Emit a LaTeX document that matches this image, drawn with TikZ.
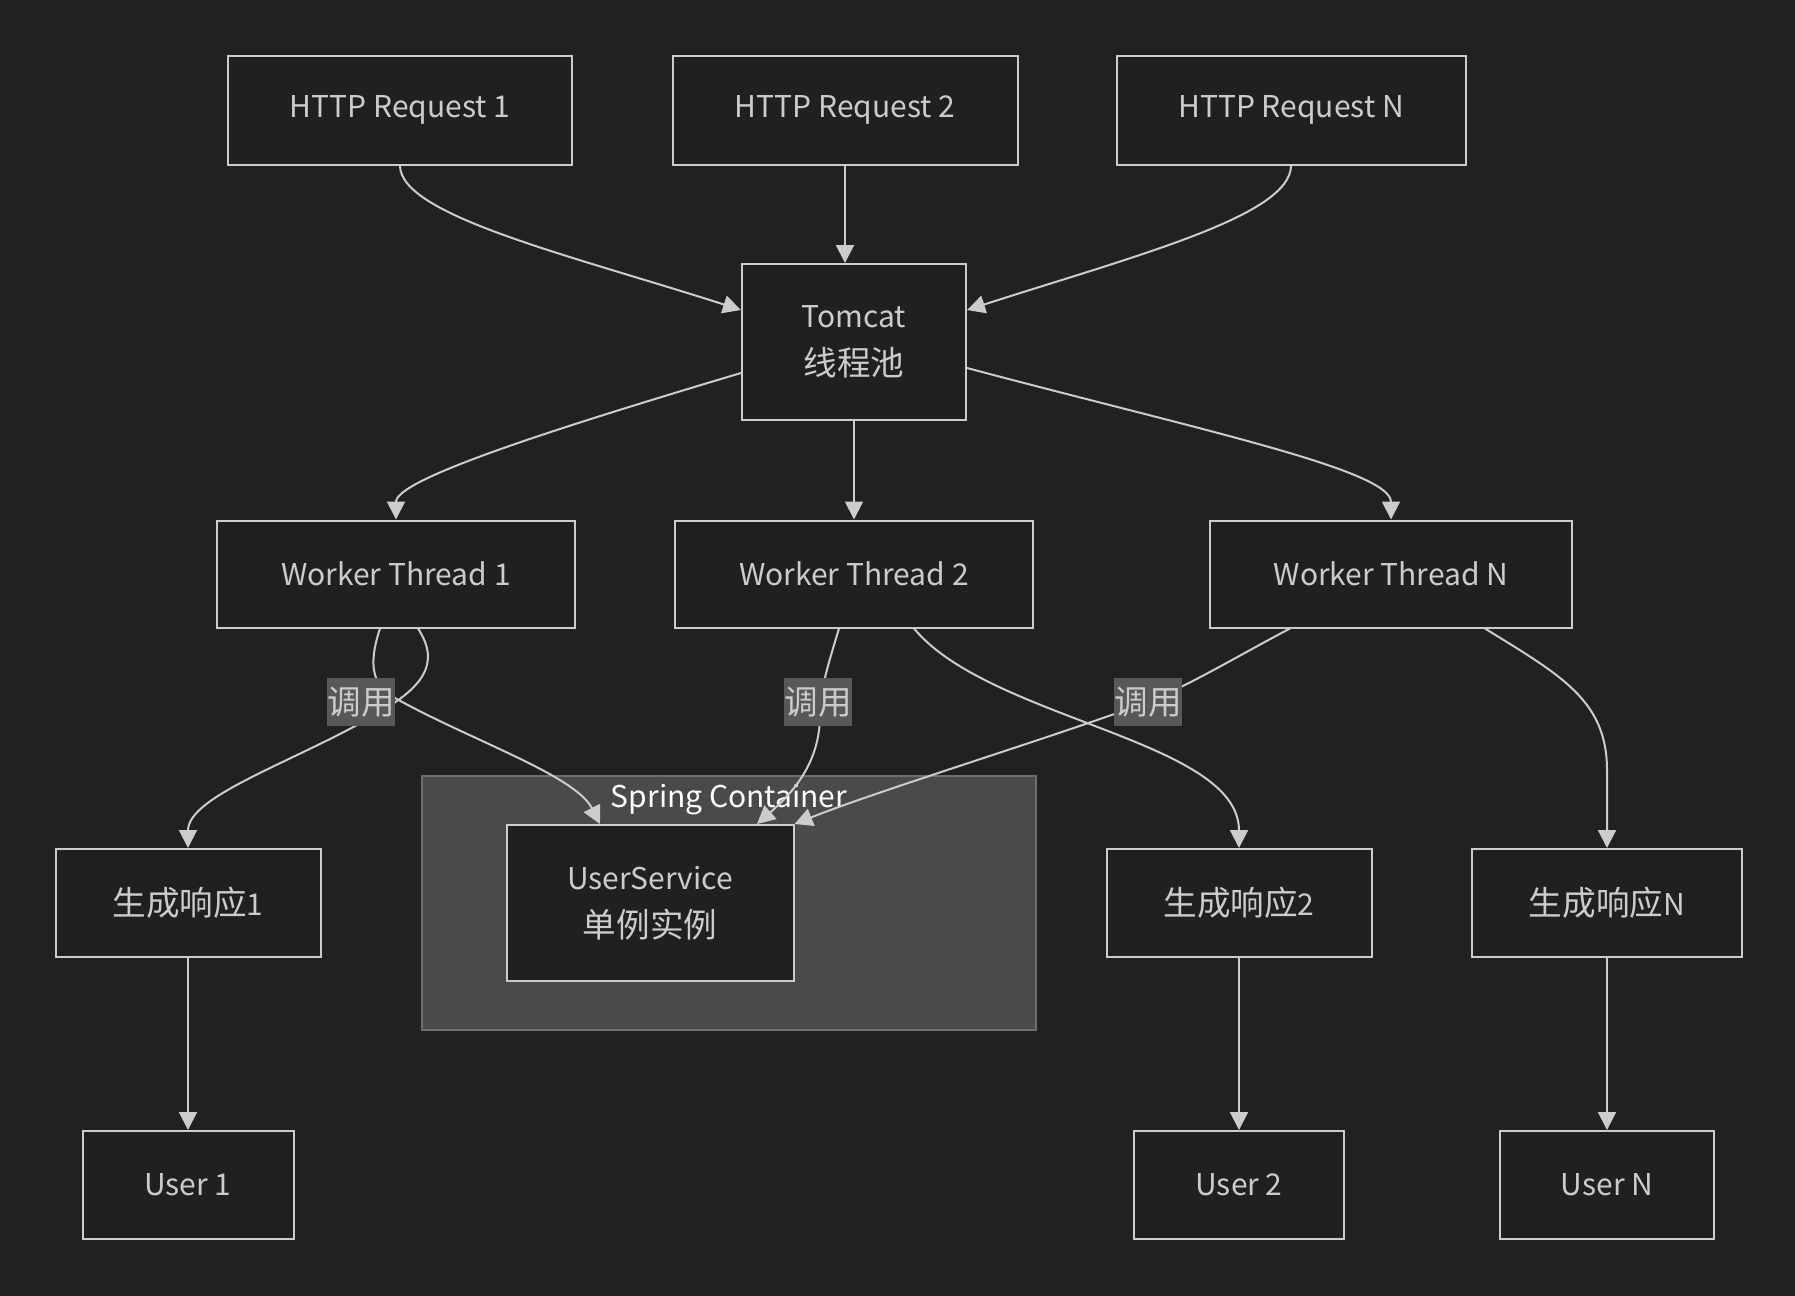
\documentclass[tikz,border=0pt]{standalone}
\usepackage{fontspec}
\setmainfont{Noto Sans CJK SC}
\newfontfamily\cjk[Scale=1.12]{Noto Sans CJK SC}
\usetikzlibrary{arrows.meta}

\definecolor{bgcol}{HTML}{212121}
\definecolor{boxfill}{HTML}{1F2020}
\definecolor{linecol}{HTML}{CCCCCC}
\definecolor{clusterfill}{HTML}{494B4A}
\definecolor{clusterline}{HTML}{6E6E6E}
\definecolor{labelfill}{HTML}{585858}

\begin{document}
\begin{tikzpicture}[x=0.5pt,y=-0.5pt,
    box/.style={draw=linecol,fill=boxfill,line width=1pt,text=linecol,align=center,inner sep=0pt,
      font=\fontsize{15}{24}\selectfont},
    conn/.style={draw=linecol,line width=1pt,-{Triangle[length=9pt,width=9pt]}},
    calllabel/.style={fill=labelfill,text=linecol,inner sep=0pt,minimum width=32.5pt,minimum height=24pt,
      font=\fontsize{15}{16}\cjk}]
    \fill[bgcol] (0,0) rectangle (1795,1296);
    \useasboundingbox (0,0) rectangle (1795,1296);

    \node[box,minimum width=172pt,minimum height=54.5pt] (req1) at (400,110) {HTTP Request 1};
    \node[box,minimum width=172.5pt,minimum height=54.5pt] (req2) at (845,110) {HTTP Request 2};
    \node[box,minimum width=174.5pt,minimum height=54.5pt] (reqN) at (1291,110) {HTTP Request N};
    \node[box,minimum width=112pt,minimum height=78pt] (tomcat) at (854,342) {Tomcat\\{\cjk 线程池}};
    \node[box,minimum width=179pt,minimum height=53.5pt] (wt1) at (396,574) {Worker Thread 1};
    \node[box,minimum width=179pt,minimum height=53.5pt] (wt2) at (854,574) {Worker Thread 2};
    \node[box,minimum width=181pt,minimum height=53.5pt] (wtN) at (1391,574) {Worker Thread N};

    \node[draw=clusterline,fill=clusterfill,line width=1pt,minimum width=307pt,minimum height=127pt] (spring) at (729,903) {};
    \node[text=white,font=\fontsize{15}{16}\selectfont] (springtitle) at (729,800) {Spring Container};
    \node[box,minimum width=143.5pt,minimum height=78pt] (us) at (650,903) {UserService\\{\cjk 单例实例}};

    \node[box,minimum width=132.5pt,minimum height=54pt] (resp1) at (188,903) {{\cjk 生成响应}1};
    \node[box,minimum width=132.5pt,minimum height=54pt] (resp2) at (1239,903) {{\cjk 生成响应}2};
    \node[box,minimum width=135pt,minimum height=54pt] (respN) at (1607,903) {{\cjk 生成响应}N};
    \node[box,minimum width=105.5pt,minimum height=54pt] (user1) at (188,1185) {User 1};
    \node[box,minimum width=105pt,minimum height=54pt] (user2) at (1239,1185) {User 2};
    \node[box,minimum width=107pt,minimum height=54pt] (userN) at (1607,1185) {User N};

    \draw[conn] (req1.south) .. controls +(0,50) and (570,255) .. ([yshift=16pt]tomcat.west);
    \draw[conn] (req2.south) -- (req2.south |- tomcat.north);
    \draw[conn] (reqN.south) .. controls +(0,50) and (1138,255) .. ([yshift=16pt]tomcat.east);

    \draw[conn] ([yshift=-15.5pt]tomcat.west) .. controls (540,433) and (396,480) .. (wt1.north);
    \draw[conn] (tomcat.south) -- (wt2.north);
    \draw[conn] ([yshift=-13pt]tomcat.east) .. controls (1200,430) and (1391,470) .. (wtN.north);

    \draw[conn] ([xshift=-8pt]wt1.south) .. controls (368,665) and (372,685) .. (395,698)
      .. controls (470,740) and (575,775) .. ([xshift=-25pt]us.north);
    \draw[conn] ([xshift=11pt]wt1.south) .. controls (442,665) and (420,688) .. (380,712)
      .. controls (300,760) and (188,795) .. (resp1.north);
    \draw[conn] ([xshift=-7.5pt]wt2.south) .. controls (828,665) and (820,690) .. (820,715)
      .. controls (820,765) and (790,795) .. ([xshift=53.5pt]us.north);
    \draw[conn] ([xshift=30pt]wt2.south) .. controls (990,720) and (1239,740) .. (resp2.north);
    \draw[conn] ([xshift=-50.5pt]wtN.south) .. controls (1245,652) and (1190,685) .. (1148,702)
      .. controls (1050,738) and (880,790) .. (us.north east);
    \draw[conn] ([xshift=47pt]wtN.south) .. controls (1560,675) and (1607,700) .. (1607,770) -- (respN.north);

    \draw[conn] (resp1.south) -- (user1.north);
    \draw[conn] (resp2.south) -- (user2.north);
    \draw[conn] (respN.south) -- (userN.north);

    \node[calllabel] (call1) at (361,702) {调用};
    \node[calllabel] (call2) at (818,702) {调用};
    \node[calllabel] (callN) at (1148,702) {调用};
\end{tikzpicture}
\end{document}
